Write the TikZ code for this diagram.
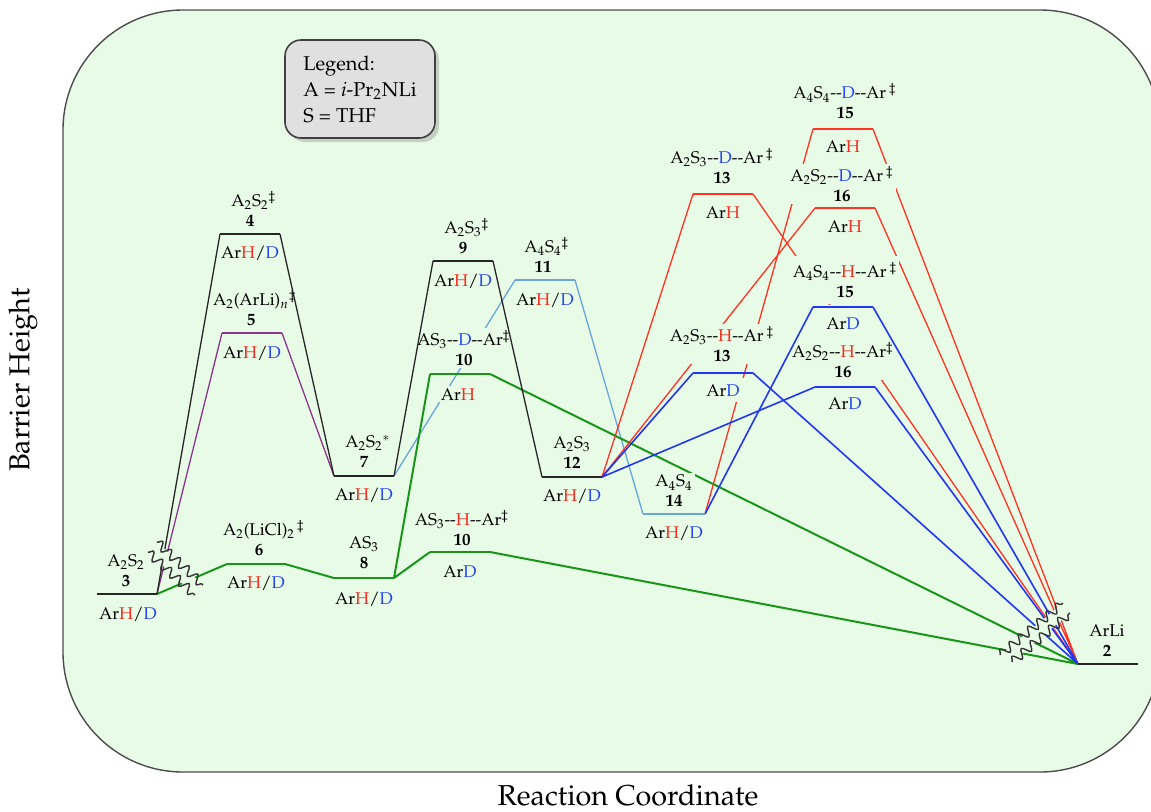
\documentclass[tikz,border=0pt]{standalone}
\usepackage[T1]{fontenc}
\usepackage{mathpazo}
\usepackage{xcolor,tikz}
\usetikzlibrary{decorations.pathmorphing,shadows}
\definecolor{bg}{RGB}{232,251,230}
\definecolor{hred}{RGB}{240,45,35}
\definecolor{dblue}{RGB}{40,70,235}
\definecolor{lred}{RGB}{255,50,35}
\definecolor{lblue}{RGB}{35,55,240}
\definecolor{lgreen}{RGB}{25,150,25}
\definecolor{lpurp}{RGB}{140,55,140}
\definecolor{lsky}{RGB}{105,165,220}
\newcommand{\rH}{\textcolor{hred}{H}}
\newcommand{\bD}{\textcolor{dblue}{D}}
\newcommand{\arhd}{Ar\rH/\bD}
\newcommand{\tsdag}{\rlap{$^{\ddagger}$}}
\begin{document}
\begin{tikzpicture}[x=0.5pt,y=-0.5pt,
lv/.style={line width=0.7pt},cn/.style={line width=0.65pt},
lb/.style={fill=bg,inner sep=1pt,align=center,font=\fontsize{8.5}{10}\selectfont},
tp/.style={lb,anchor=south},bt/.style={lb,anchor=base},
wig/.style={draw=black!80,line width=0.7pt,decorate,decoration={snake,amplitude=2.2pt,segment length=6pt}}]
\useasboundingbox (0,0) rectangle (1151,811);
\draw[fill=bg,draw=black!70,line width=0.7pt,rounded corners=60pt] (63,10) rectangle (1160,772);
\coordinate (l3) at (97,594);    \coordinate (r3) at (157,594);
\coordinate (l4) at (220,234);   \coordinate (r4) at (280,234);
\coordinate (l5) at (222,333);   \coordinate (r5) at (282,333);
\coordinate (l6) at (227,564);   \coordinate (r6) at (285,564);
\coordinate (l7) at (334,476);   \coordinate (r7) at (394,476);
\coordinate (l8) at (334,578);   \coordinate (r8) at (394,578);
\coordinate (l9) at (433,261);   \coordinate (r9) at (493,261);
\coordinate (l10d) at (430,374); \coordinate (r10d) at (490,374);
\coordinate (l10h) at (430,552); \coordinate (r10h) at (490,552);
\coordinate (l11) at (515,280);  \coordinate (r11) at (575,280);
\coordinate (l12) at (542,477);  \coordinate (r12) at (602,477);
\coordinate (l13d) at (693,194); \coordinate (r13d) at (753,194);
\coordinate (l13h) at (693,373); \coordinate (r13h) at (753,373);
\coordinate (l14) at (643,514);  \coordinate (r14) at (705,514);
\coordinate (l15d) at (813,129); \coordinate (r15d) at (873,129);
\coordinate (l16d) at (815,208); \coordinate (r16d) at (875,208);
\coordinate (l15h) at (813,307); \coordinate (r15h) at (873,307);
\coordinate (l16h) at (815,387); \coordinate (r16h) at (875,387);
\coordinate (l2) at (1078,664);  \coordinate (r2) at (1138,664);
\draw[cn,lpurp] (r3)--(l5) (r5)--(l7);
\draw[cn,lsky] (r7)--(l11) (r11)--(l14);
\draw[cn,lgreen,line width=1pt] (r3)--(l6) (r6)--(l8) (r8)--(l10d) (r8)--(l10h) (r10d)--(l2) (r10h)--(l2);
\draw[cn,lred] (r12)--(l13d) (r12)--(l16d) (r14)--(l15d) (r13d)--(l2) (r15d)--(l2) (r16d)--(l2);
\draw[cn,lblue,line width=0.8pt] (r12)--(l13h) (r12)--(l16h) (r13h)--(l2) (r16h)--(l2);
\node[tp] (t3) at (126,589) {A$_2$S$_2$\\\textbf{3}};
\node[bt] (b3) at (128,619) {\arhd};
\node[tp] (t4) at (250,229.5) {A$_2$S$_2$\tsdag\\\textbf{4}};
\node[bt] (b4) at (250,258) {\arhd};
\node[tp] (t5) at (251,328.5) {A$_2$(ArLi)$_n$\tsdag\\\textbf{5}};
\node[bt] (b5) at (252,358) {\arhd};
\node[tp] (t6) at (259,558.5) {A$_2$(LiCl)$_2$\rlap{$^{\,\ddagger}$}\\\textbf{6}};
\node[bt] (b6) at (256,588) {\arhd};
\node[tp] (t7) at (364,470.5) {A$_2$S$_2$\rlap{$^{*}$}\\\textbf{7}};
\node[bt] (b7) at (364,500) {\arhd};
\node[tp] (t8) at (364,571) {AS$_3$\\\textbf{8}};
\node[bt] (b8) at (364,604) {\arhd};
\node[tp] (t9) at (463,256) {A$_2$S$_3$\tsdag\\\textbf{9}};
\node[bt] (b9) at (463,286) {\arhd};
\node[tp] (t10d) at (464,368) {AS$_3$-{}-\bD-{}-Ar$^{\ddagger}$\\\textbf{10}};
\node[bt] (b10d) at (458,400) {Ar\rH};
\node[tp] (t10h) at (462,548) {AS$_3$-{}-\rH-{}-Ar$^{\ddagger}$\\\textbf{10}};
\node[bt] (b10h) at (460,577) {Ar\bD};
\node[tp] (t11) at (543,275) {A$_4$S$_4$\tsdag\\\textbf{11}};
\node[bt] (b11) at (545,305) {\arhd};
\node[tp] (t12) at (572,471) {A$_2$S$_3$\\\textbf{12}};
\node[bt] (b12) at (572,501) {\arhd};
\node[tp] (t13d) at (722,186) {A$_2$S$_3$-{}-\bD-{}-Ar\,$^{\ddagger}$\\\textbf{13}};
\node[bt] (b13d) at (723,218) {Ar\rH};
\node[tp] (t13h) at (722,364) {A$_2$S$_3$-{}-\rH-{}-Ar\,$^{\ddagger}$\\\textbf{13}};
\node[bt,inner sep=3pt] (b13h) at (723,396) {Ar\bD};
\node[tp] (t14) at (674,509.5) {A$_4$S$_4$\\\textbf{14}};
\node[bt] (b14) at (674,538) {\arhd};
\node[tp] (t15d) at (845,121.5) {A$_4$S$_4$-{}-\bD-{}-Ar\,$^{\ddagger}$\\\textbf{15}};
\node[bt] (b15d) at (843,152) {Ar\rH};
\node[tp] (t16d) at (842,204) {A$_2$S$_2$-{}-\bD-{}-Ar\,$^{\ddagger}$\\\textbf{16}};
\node[bt] (b16d) at (845,232) {Ar\rH};
\node[tp,inner ysep=3pt] (t15h) at (845,304) {A$_4$S$_4$-{}-\rH-{}-Ar\,$^{\ddagger}$\\\textbf{15}};
\node[bt,inner xsep=1pt,inner ysep=6pt] (b15h) at (843,329) {Ar\bD};
\node[tp] (t16h) at (843,380) {A$_2$S$_2$-{}-\rH-{}-Ar$^{\ddagger}$\\\textbf{16}};
\node[bt] (b16h) at (845,409) {Ar\bD};
\node[tp] (t2) at (1107,659.5) {ArLi\\\textbf{2}};
\draw[cn,black!85] (r3)--(l4) (r4)--(l7) (r7)--(l9) (r9)--(l12);
\draw[cn,lblue,line width=0.8pt] (r14)--(l15h) (r15h)--(l2);
\fill[bg] (148,552)--(195,595)--(203,585)--(157,542)--cycle;
\fill[bg] (1000,655)--(1063,603)--(1070,613)--(1012,662)--cycle;
\draw[wig] (148,552)--(195,595);
\draw[wig] (157,542)--(203,585);
\draw[wig] (1000,655)--(1063,603);
\draw[wig] (1012,662)--(1070,613);
\draw[lv,black!85] (l3)--(r3) (l4)--(r4) (l7)--(r7) (l9)--(r9) (l12)--(r12) (l2)--(r2);
\draw[lv,lpurp] (l5)--(r5);
\draw[lv,lsky] (l11)--(r11) (l14)--(r14);
\draw[lv,lgreen,line width=1pt] (l6)--(r6) (l8)--(r8) (l10d)--(r10d) (l10h)--(r10h);
\draw[lv,lred] (l13d)--(r13d) (l15d)--(r15d) (l16d)--(r16d);
\draw[lv,lblue,line width=0.8pt] (l13h)--(r13h) (l15h)--(r15h) (l16h)--(r16h);
\node[draw=black!75,fill=black!12,rounded corners=8pt,line width=0.8pt,minimum width=75pt,minimum height=49pt,align=left,
  drop shadow={opacity=0.35,shadow xshift=2pt,shadow yshift=-2pt}] (leg) at (360,89) {Legend:\\[1pt]A = \textit{i}-Pr$_2$NLi\\[1pt]S = THF};
\node[font=\Large,rotate=90] (ylab) at (23,380) {Barrier Height};
\node[font=\Large,anchor=base] (xlab) at (628,805) {Reaction Coordinate};
\end{tikzpicture}
\end{document}
